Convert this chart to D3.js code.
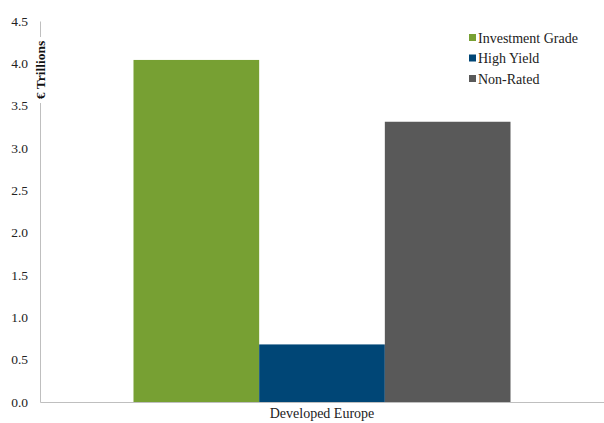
<!DOCTYPE html>
<html><head><meta charset="utf-8">
<script src="https://cdn.jsdelivr.net/npm/d3@7"></script>
<style>body{margin:0;background:#fff}</style>
</head><body><svg id="c" width="604" height="423"></svg>
<script>
const categories = ["Developed Europe"];
const seriesNames = ["Investment Grade", "High Yield", "Non-Rated"];
const seriesValues = [4.04, 0.68, 3.31];
const seriesColors = ["#77A033", "#004676", "#595959"];
const yTicks = [0, 0.5, 1.0, 1.5, 2.0, 2.5, 3.0, 3.5, 4.0, 4.5];

const svg = d3.select("#c");
const font = "'Liberation Serif','DejaVu Serif',serif";
const m = {left: 40, right: 604, top: 21, bottom: 402};

const y = d3.scaleLinear().domain([0, 4.5]).range([m.bottom, m.top]);
const x0 = d3.scaleBand().domain(categories).range([m.left, m.right]).paddingInner(0).paddingOuter(0.248);
const x1 = d3.scaleBand().domain(seriesNames).range([0, x0.bandwidth()]);

// bars
const g = svg.append("g");
categories.forEach(c => {
  g.selectAll("rect.b").data(seriesNames).enter().append("rect")
    .attr("x", (s) => x0(c) + x1(s))
    .attr("width", x1.bandwidth())
    .attr("y", (s, i) => y(seriesValues[i]))
    .attr("height", (s, i) => y(0) - y(seriesValues[i]))
    .attr("fill", (s, i) => seriesColors[i]);
});

// y axis
const ya = svg.append("g").attr("transform", `translate(${m.left},0)`)
  .call(d3.axisLeft(y).tickValues(yTicks).tickFormat(d3.format(".1f")).tickSize(0).tickPadding(12));
ya.select(".domain").attr("stroke", "#BFBFBF").attr("stroke-width", 1);
ya.selectAll("text").attr("font-family", font).attr("font-size", 13.5).attr("fill", "#222");

// x axis
const xa = svg.append("g").attr("transform", `translate(0,${m.bottom})`)
  .call(d3.axisBottom(x0.copy().paddingOuter(0)).tickSize(0).tickPadding(6));
xa.select(".domain").attr("stroke", "#BFBFBF").attr("stroke-width", 1);
xa.selectAll("text").attr("font-family", font).attr("font-size", 14).attr("fill", "#222");

// y label with white background
const yl = svg.append("g").attr("transform", "translate(45,70) rotate(-90)");
yl.append("rect").attr("x", -33).attr("y", -11).attr("width", 66).attr("height", 14).attr("fill", "#fff");
yl.append("text").attr("text-anchor", "middle").attr("font-family", font).attr("font-weight", "bold")
  .attr("font-size", 13.5).attr("fill", "#111").text("€ Trillions");

// legend
const lg = svg.append("g").attr("transform", "translate(469,38)");
seriesNames.forEach((s, i) => {
  lg.append("rect").attr("x", 0).attr("y", i * 20.5 - 4).attr("width", 7).attr("height", 7).attr("fill", seriesColors[i]);
  lg.append("text").attr("x", 9).attr("y", i * 20.5).attr("dy", "0.35em")
    .attr("font-family", font).attr("font-size", 14).attr("fill", "#222").text(s);
});
</script></body></html>
